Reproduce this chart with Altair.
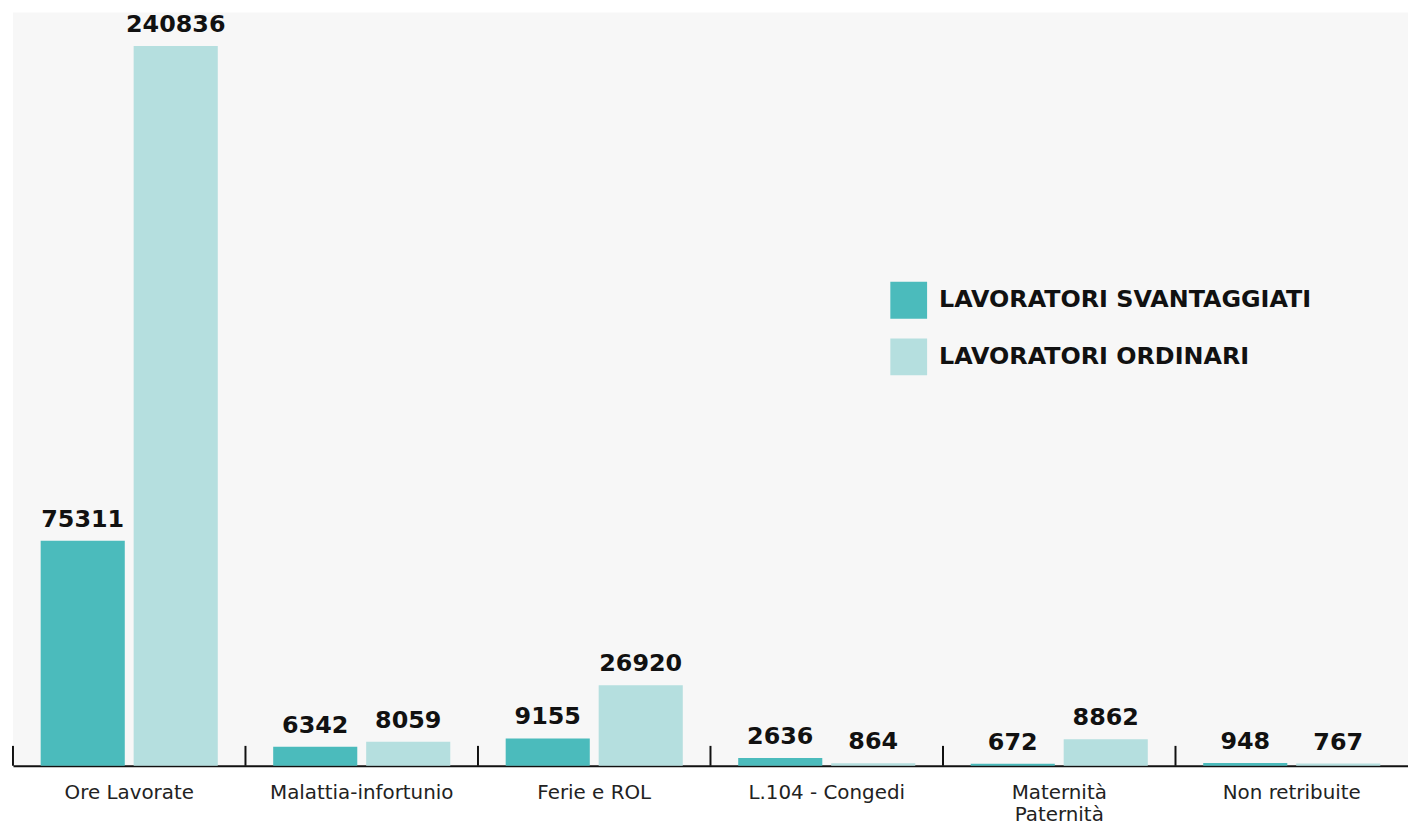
import altair as alt
import pandas as pd

categories = ["Ore Lavorate", "Malattia-infortunio", "Ferie e ROL", "L.104 - Congedi",
              "Maternità\nPaternità", "Non retribuite"]
series_names = ["LAVORATORI SVANTAGGIATI", "LAVORATORI ORDINARI"]
svantaggiati = [75311, 6342, 9155, 2636, 672, 948]
ordinari = [240836, 8059, 26920, 864, 8862, 767]
colors = ["#4BBBBC", "#B5DFDF"]

rows = []
for c, a, b in zip(categories, svantaggiati, ordinari):
    rows.append({"cat": c, "serie": series_names[0], "val": a})
    rows.append({"cat": c, "serie": series_names[1], "val": b})
df = pd.DataFrame(rows)
ticks_df = pd.DataFrame({"cat": categories})

W, H = 1404, 758
FONT = "DejaVu Sans"

x_enc = alt.X("cat:N", sort=categories, title=None,
              scale=alt.Scale(paddingInner=0, paddingOuter=0),
              axis=alt.Axis(labelExpr="split(datum.value, '\\n')", ticks=False,
                            domainColor="#111", domainWidth=2, labelAngle=0,
                            labelFont=FONT, labelFontSize=20, labelColor="#222",
                            labelLimit=0,
                            labelPadding=17, labelLineHeight=22, labelBaseline="top"))
xo = alt.XOffset("serie:N", sort=series_names,
                 scale=alt.Scale(paddingInner=0.0957, paddingOuter=0.298))
y_enc = alt.Y("val:Q", axis=None, scale=alt.Scale(domain=[0, 252000], nice=False))

bars = alt.Chart(df).mark_bar().encode(
    x=x_enc, xOffset=xo, y=y_enc,
    color=alt.Color("serie:N", sort=series_names,
                    scale=alt.Scale(domain=series_names, range=colors),
                    legend=alt.Legend(title=None, orient="none", legendX=883, legendY=271,
                                      symbolType="square", symbolSize=1369,
                                      symbolStrokeWidth=0, symbolOpacity=1,
                                      labelFont=FONT, labelFontSize=24, labelLimit=0,
                                      labelFontWeight="bold", labelColor="#111",
                                      labelOffset=12, rowPadding=20)),
)

labels = alt.Chart(df).mark_text(font=FONT, fontSize=24, fontWeight="bold",
                                 color="#111", baseline="bottom", dy=-9).encode(
    x=alt.X("cat:N", sort=categories), xOffset=xo, y=y_enc,
    text=alt.Text("val:Q", format="d"),
)

tick_rules = alt.Chart(ticks_df).mark_rule(color="#111", strokeWidth=2).encode(
    x=alt.X("cat:N", sort=categories, bandPosition=0),
    y=alt.value(H - 20), y2=alt.value(H),
)

chart = alt.layer(bars, labels, tick_rules).properties(
    width=W, height=H,
    padding={"left": 4, "top": 2, "right": 0, "bottom": 0},
    background="white",
).configure_view(fill="#f7f7f7", stroke=None)

chart.save("out.html", embed_options={"renderer": "svg", "actions": False})
